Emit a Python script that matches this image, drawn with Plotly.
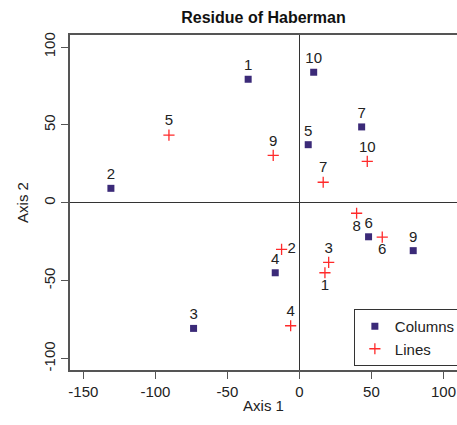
import plotly.graph_objects as go

# Columns (dark squares)
col_labels = ["1", "2", "3", "4", "5", "6", "7", "8", "9", "10"]
col_x = [-35.6, -130.9, -73.5, -16.8, 6.1, 48.0, 43.2, 42.5, 79.0, 9.9]
col_y = [79.3, 9.3, -80.6, -44.9, 37.3, -21.8, 48.7, -83.8, -30.7, 83.8]
col_pos = ["top center"] * 10

# Lines (red crosses)
line_labels = ["1", "2", "3", "4", "5", "6", "7", "8", "9", "10"]
line_x = [17.7, -12.4, 20.3, -6.1, -90.6, 57.5, 16.5, 39.7, -18.2, 47.1]
line_y = [-44.9, -29.9, -38.2, -78.9, 43.5, -22.0, 13.2, -6.7, 30.5, 26.6]
line_pos = ["bottom center", "middle right", "top center", "top center", "top center",
            "bottom center", "top center", "bottom center", "top center", "top center"]

x_ticks = [-150, -100, -50, 0, 50, 100]
y_ticks = [-100, -50, 0, 50, 100]

FONT = "Liberation Sans, Arial, sans-serif"
COL_COLOR = "#3b2a78"
LINE_COLOR = "#ff2a2a"

fig = go.Figure()
fig.add_trace(go.Scatter(
    x=col_x, y=col_y, text=col_labels, textposition=col_pos,
    mode="markers+text", name="Columns",
    marker=dict(symbol="square", size=7, color=COL_COLOR),
    textfont=dict(size=15, color="#222222", family=FONT),
))
fig.add_trace(go.Scatter(
    x=line_x, y=line_y, text=line_labels, textposition=line_pos,
    mode="markers+text", name="Lines",
    marker=dict(symbol="cross-thin", size=8, color=LINE_COLOR,
                line=dict(color=LINE_COLOR, width=1.3)),
    textfont=dict(size=15, color="#222222", family=FONT),
))

fig.update_layout(
    width=457, height=425,
    margin=dict(l=70, r=0, t=35, b=55, autoexpand=False),
    paper_bgcolor="white", plot_bgcolor="white",
    font=dict(family=FONT, size=15, color="#222222"),
    title=dict(text="<b>Residue of Haberman</b>", x=0.5, xanchor="center",
               xref="paper", y=1, yref="container", yanchor="top", pad=dict(t=12),
               font=dict(size=16, color="#111111", family=FONT)),
    showlegend=True,
    legend=dict(x=1.01, xanchor="right", y=0.012, yanchor="bottom",
                bgcolor="white", bordercolor="#333333", borderwidth=1,
                font=dict(size=15, family=FONT, color="#222222"),
                itemwidth=30, tracegroupgap=0),
)
fig.update_xaxes(
    range=[-159.3, 109.4], tickvals=x_ticks, ticktext=[str(v) for v in x_ticks],
    showgrid=False, zeroline=True, zerolinecolor="#333333", zerolinewidth=1,
    showline=True, linecolor="#555555", linewidth=1.5, mirror=True,
    ticks="outside", ticklen=7, tickcolor="#555555",
    title=dict(text="Axis 1", standoff=2, font=dict(size=15)),
)
fig.update_yaxes(
    range=[-107.3, 107.7], tickvals=y_ticks, ticktext=[str(v) for v in y_ticks],
    tickangle=-90,
    showgrid=False, zeroline=True, zerolinecolor="#333333", zerolinewidth=1,
    showline=True, linecolor="#555555", linewidth=1.5, mirror=False,
    ticks="outside", ticklen=7, tickcolor="#555555",
    title=dict(text="Axis 2", standoff=9, font=dict(size=15)),
)

fig.write_html("out.html")
